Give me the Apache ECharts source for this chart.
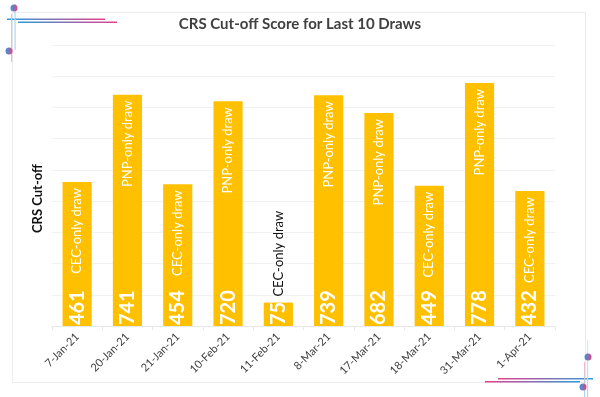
<!DOCTYPE html>
<html>
<head>
<meta charset="utf-8">
<script src="https://cdn.jsdelivr.net/npm/echarts@6/dist/echarts.min.js"></script>
<style>
html,body{margin:0;padding:0;background:#fff;}
#main{width:600px;height:397px;}
</style>
</head>
<body>
<div id="main"></div>
<script>
var drawDates = ['7-Jan-21','20-Jan-21','21-Jan-21','10-Feb-21','11-Feb-21','8-Mar-21','17-Mar-21','18-Mar-21','31-Mar-21','1-Apr-21'];
var cutoffScores = [461, 741, 454, 720, 75, 739, 682, 449, 778, 432];
var drawTypes = ['CEC-only draw','PNP-only draw','CEC-only draw','PNP-only draw','CEC-only draw','PNP-only draw','PNP-only draw','CEC-only draw','PNP-only draw','CEC-only draw'];

var chart = echarts.init(document.getElementById('main'));
var FONT = 'Lato';
var BLUE = '#2d9cdb', PINK = '#e6418b';

function grad(x2, y2, c1, c2){
	return new echarts.graphic.LinearGradient(0, 0, x2, y2, [{offset:0,color:c1},{offset:1,color:c2}]);
}
function dot(cx, cy){
	return {type:'circle', shape:{cx:cx, cy:cy, r:3.5}, style:{fill:grad(1,0,BLUE,PINK)}, z:10};
}
function hline(x, y, w, c1, c2){
	return {type:'rect', shape:{x:x, y:y, width:w, height:1.6}, style:{fill:grad(1,0,c1,c2)}, z:10};
}
function vline(x, y, h, c1, c2){
	return {type:'rect', shape:{x:x, y:y, width:1.2, height:h}, style:{fill:grad(0,1,c1,c2)}, z:10};
}

// description labels, the short bar gets its text above it in black
var descData = [];
for (var i = 0; i < cutoffScores.length; i++) {
	var item = {value: cutoffScores[i]};
	if (cutoffScores[i] < 200) {
		item.label = {position:'top', align:'left', color:'#111', distance:6};
	}
	descData.push(item);
}

var option = {
	animation: false,
	title: {
		text: 'CRS Cut-off Score for Last 10 Draws',
		left: 'center',
		top: 12,
		textStyle: {fontFamily: FONT, fontSize: 15, fontWeight: 'bold', color: '#404040'}
	},
	grid: {left: 52, right: 45, top: 45, bottom: 71},
	xAxis: {
		type: 'category',
		data: drawDates,
		axisLine: {lineStyle: {color: '#e8e8e8'}},
		axisTick: {show: true, length: 4, lineStyle: {color: '#e8e8e8'}},
		axisLabel: {rotate: 45, fontFamily: FONT, fontSize: 11, color: '#404040', margin: 9}
	},
	yAxis: {
		type: 'value',
		min: 0,
		max: 900,
		interval: 100,
		name: 'CRS Cut-off',
		nameLocation: 'middle',
		nameGap: 8,
		nameTextStyle: {fontFamily: FONT, fontSize: 13, fontWeight: 'bold', color: '#111', padding: [0, 26, 0, 0]},
		axisLabel: {show: false},
		axisLine: {show: false},
		axisTick: {show: false},
		splitLine: {lineStyle: {color: '#f1f1f1'}}
	},
	series: [{
		name: 'score',
		type: 'bar',
		data: cutoffScores,
		barWidth: '58%',
		itemStyle: {color: '#FFC000'},
		label: {
			show: true,
			position: 'insideBottom',
			rotate: 90,
			align: 'left',
			verticalAlign: 'middle',
			distance: 1,
			fontFamily: FONT,
			fontSize: 20,
			fontWeight: 'bold',
			color: '#fff'
		}
	},{
		name: 'type',
		type: 'bar',
		data: descData,
		barWidth: '58%',
		barGap: '-100%',
		itemStyle: {color: 'rgba(0,0,0,0)'},
		label: {
			show: true,
			position: 'insideTop',
			rotate: 90,
			align: 'right',
			verticalAlign: 'middle',
			distance: 6,
			fontFamily: FONT,
			fontSize: 13,
			color: '#fff',
			formatter: function(p){ return drawTypes[p.dataIndex]; }
		}
	}],
	graphic: [
		{type:'rect', shape:{x:12.5, y:12.5, width:573, height:370}, style:{fill:'none', stroke:'#ececec', lineWidth:1}, z:-1},
		// top left ornament
		hline(7, 18.5, 98, BLUE, PINK),
		hline(18, 21.5, 99, BLUE, PINK),
		vline(11, 14, 48, '#a9d8f0', '#f4b6d1'),
		vline(14.5, 4, 46, '#a9d8f0', '#a9d8f0'),
		dot(14, 8),
		dot(9, 51),
		// bottom right ornament
		hline(498, 378, 95, PINK, BLUE),
		hline(485, 381, 95, PINK, BLUE),
		vline(587, 340, 57, '#d6ecf8', '#a9d8f0'),
		vline(584, 362, 35, '#f4b6d1', '#a9d8f0'),
		dot(588, 357),
		dot(583, 387)
	]
};
chart.setOption(option);
</script>
</body>
</html>
